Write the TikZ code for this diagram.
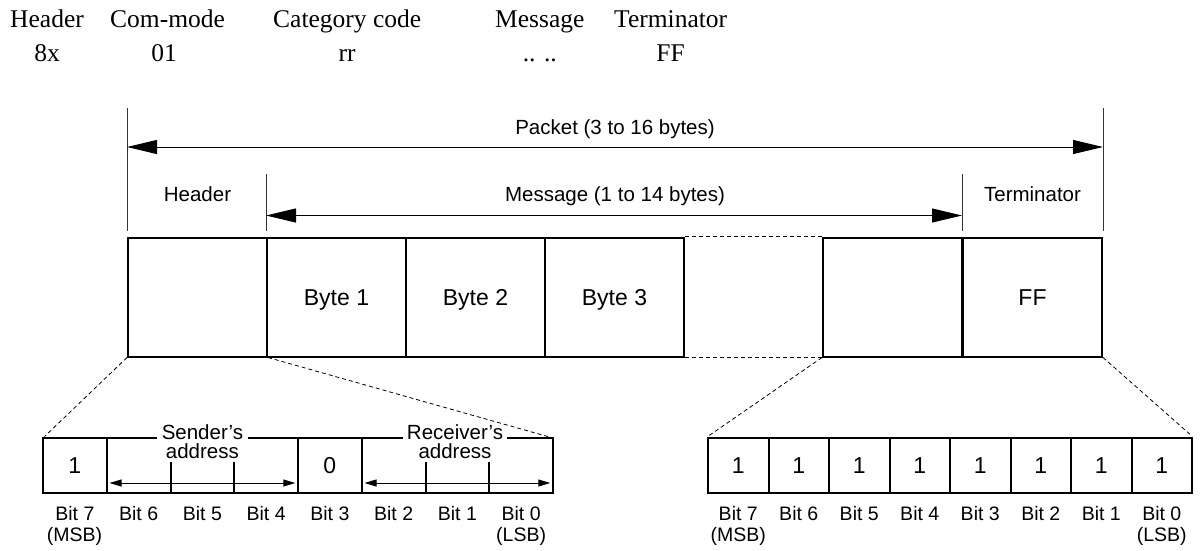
\documentclass[tikz,border=0pt]{standalone}
\usepackage{fontspec}
\setmainfont{Liberation Serif}
\setsansfont{Liberation Sans}
\usetikzlibrary{arrows.meta}
\begin{document}
\begin{tikzpicture}[x=1pt,y=-1pt,
  sans/.style={font=\sffamily\fontsize{20.5}{24}\selectfont},
  big/.style={font=\sffamily\fontsize{23}{27}\selectfont},
  small/.style={font=\sffamily\fontsize{19.5}{23}\selectfont},
  serif/.style={font=\fontsize{25.5}{30}\selectfont, inner sep=0pt},
  bytebox/.style={draw, line width=2pt, minimum width=139pt, minimum height=119pt, inner sep=0pt, big, text height=16.5pt, text depth=0pt},
  cell/.style={draw, line width=2pt, minimum height=55pt, inner sep=0pt, big, text height=16.5pt, text depth=0pt},
  val/.style={big, inner sep=0pt, text height=16.5pt, text depth=0pt},
  lbl/.style={sans, anchor=base, inner sep=0pt},
  blbl/.style={small, anchor=base, inner sep=0pt},
  ext/.style={line width=0.8pt, draw=black!80},
  dim/.style={line width=0.9pt, {Triangle[length=30pt,width=14pt]}-{Triangle[length=30pt,width=14pt]}},
  sdim/.style={line width=0.9pt, {Triangle[length=12pt,width=7pt]}-{Triangle[length=12pt,width=7pt]}},
  zoomline/.style={line width=0.8pt, dash pattern=on 4pt off 3pt},
  frame/.style={line width=2pt}
]
\useasboundingbox (0,0) rectangle (1200,550);

% ---- top row of field names (serif)
\node[serif, anchor=base west] (fHdr) at (10,27) {Header};
\node[serif, anchor=base west] (fCom) at (110,27) {Com-mode};
\node[serif, anchor=base west] (fCat) at (273,27) {Category code};
\node[serif, anchor=base west] (fMsg) at (495,27) {Message};
\node[serif, anchor=base west] (fTrm) at (614,27) {Terminator};
\node[serif, anchor=base] (vHdr) at (fHdr.center |- 0,61) {8x};
\node[serif, anchor=base] (vCom) at (164,61) {01};
\node[serif, anchor=base] (vCat) at (fCat.center |- 0,61) {rr};
\node[serif, anchor=base] (vMsg) at (fMsg.center |- 0,61) {.. ..};
\node[serif, anchor=base] (vTrm) at (fTrm.center |- 0,61) {FF};

% ---- packet boxes
\node[bytebox] (hd) at (197.5,297) {};
\node[bytebox] (b1) at (336.5,297) {Byte 1};
\node[bytebox] (b2) at (475.5,297) {Byte 2};
\node[bytebox] (b3) at (614.5,297) {Byte 3};
\node[bytebox] (bn) at (892.5,297) {};
\node[bytebox] (tm) at (1032.5,297) {FF};
\draw[zoomline] (b3.north east) -- (bn.north west);
\draw[zoomline] (b3.south east) -- (bn.south west);

% ---- extension lines
\draw[ext] ([yshift=6pt]hd.north west) -- ([yshift=129pt]hd.north west);
\draw[ext] ([yshift=6pt]tm.north east) -- ([yshift=129pt]tm.north east);
\draw[ext] ([yshift=6pt]b1.north west) -- ([yshift=62.5pt]b1.north west);
\draw[ext] ([yshift=6pt]tm.north west) -- ([yshift=62.5pt]tm.north west);

% ---- dimension arrows
\draw[dim] ([yshift=89.5pt]hd.north west) -- ([yshift=89.5pt]tm.north east);
\draw[dim] ([yshift=21pt]b1.north west) -- ([yshift=21pt]tm.north west);
\node[lbl] (pk) at (615,134.5) {Packet (3 to 16 bytes)};
\node[lbl] (lHd) at (197.5,201.5) {Header};
\node[lbl] (lMs) at (615,201.5) {Message (1 to 14 bytes)};
\node[lbl] (lTm) at (1032.5,201.5) {Terminator};

% ---- left bit box (header byte)
\coordinate (LNW) at (43,438);
\coordinate (LNE) at (553,438);
\coordinate (LSW) at (43,493);
\coordinate (LSE) at (553,493);
\node[sans, anchor=base, inner xsep=5pt, inner ysep=0pt] (snd) at (202.4,439) {Sender’s};
\node[lbl] (sndA) at (202.4,458.5) {address};
\node[sans, anchor=base, inner xsep=3.5pt, inner ysep=0pt] (rcv) at (455,439) {Receiver’s};
\node[lbl] (rcvA) at (455,458.5) {address};
\draw[frame] (snd.west |- LNW) -- (LNW) -- (LSW) -- (LSE) -- (LNE) -- (rcv.east |- LNW);
\draw[frame] (snd.east |- LNW) -- (rcv.west |- LNW);
% full dividers
\draw[frame] (106.75,438) -- (106.75,493);
\draw[frame] (298,438) -- (298,493);
\draw[frame] (361.75,438) -- (361.75,493);
% ticks
\draw[frame] (170.5,462) -- (170.5,493);
\draw[frame] (234.25,462) -- (234.25,493);
\draw[frame] (425.5,462) -- (425.5,493);
\draw[frame] (489.25,462) -- (489.25,493);
% arrows
\coordinate (sA) at (109.5,483);
\coordinate (sB) at (295.3,483);
\coordinate (rA) at (364.5,483);
\coordinate (rB) at (550.3,483);
\draw[sdim] (sA) -- (sB);
\draw[sdim] (rA) -- (rB);
\node[val] (lv7) at (74.875,465.5) {1};
\node[val] (lv3) at (329.875,465.5) {0};
% labels
\node[blbl] (lb7) at (74.875,520) {Bit 7};
\node[blbl] (lb6) at (138.625,520) {Bit 6};
\node[blbl] (lb5) at (202.375,520) {Bit 5};
\node[blbl] (lb4) at (266.125,520) {Bit 4};
\node[blbl] (lb3) at (329.875,520) {Bit 3};
\node[blbl] (lb2) at (393.625,520) {Bit 2};
\node[blbl] (lb1) at (457.375,520) {Bit 1};
\node[blbl] (lb0) at (521.125,520) {Bit 0};
\node[blbl] (lmsb) at (74.5,541) {(MSB)};
\node[blbl] (llsb) at (521.125,541) {(LSB)};

% ---- right bit box (terminator)
\foreach \k/\x in {7/738.25,6/798.75,5/859.25,4/919.75,3/980.25,2/1040.75,1/1101.25,0/1161.75}{
  \node[cell, minimum width=60.5pt] (r\k) at (\x,465.5) {1};
  \node[blbl] (rb\k) at (\x,520) {Bit \k};
}
\node[blbl] (rmsb) at (738.25,541) {(MSB)};
\node[blbl] (rlsb) at (1161.75,541) {(LSB)};

% ---- zoom (dashed) lines
\draw[zoomline, shorten >=2pt] (hd.south west) -- (LNW);
\draw[zoomline, shorten >=2pt] (hd.south east) -- (LNE);
\draw[zoomline, shorten >=2pt] (bn.south west) -- (r7.north west);
\draw[zoomline, shorten >=2pt] (tm.south east) -- (r0.north east);
\end{tikzpicture}
\end{document}
